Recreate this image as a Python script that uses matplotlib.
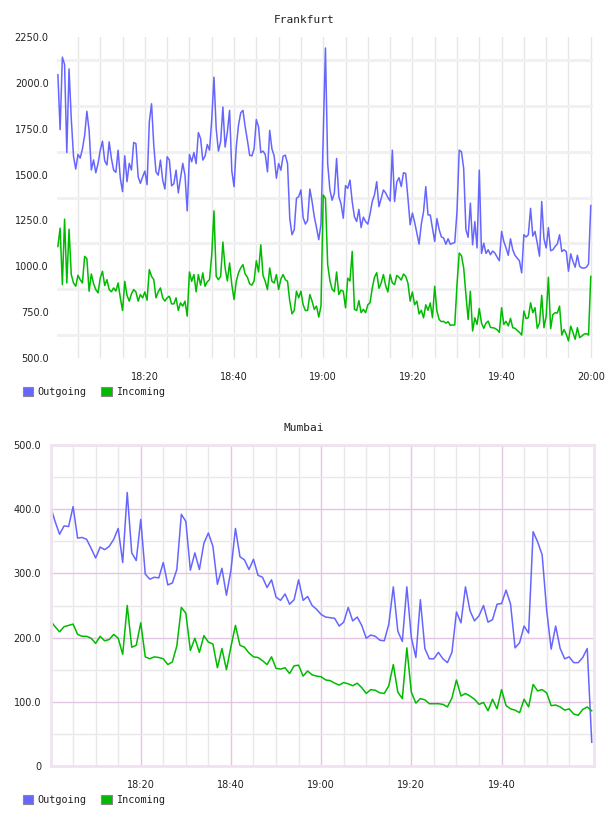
import matplotlib
matplotlib.use('Agg')
import matplotlib.pyplot as plt
import matplotlib.dates as mdates
from matplotlib.patches import Patch
from matplotlib.ticker import FixedLocator, FuncFormatter
import numpy as np
import pandas as pd

# Frankfurt, one sample every 30 s (18:00:30 .. 20:00)
fra_out = [2044, 1745, 2140, 2100, 1620, 2076, 1805, 1600, 1530, 1610,
           1590, 1640, 1714, 1845, 1740, 1525, 1580, 1510, 1560, 1633,
           1682, 1575, 1552, 1678, 1588, 1524, 1512, 1633, 1480, 1407,
           1602, 1461, 1561, 1525, 1675, 1669, 1488, 1452, 1488, 1519,
           1445, 1787, 1886, 1660, 1515, 1497, 1579, 1470, 1421, 1597,
           1579, 1439, 1450, 1524, 1400, 1479, 1561, 1497, 1302, 1610,
           1570, 1620, 1560, 1729, 1696, 1579, 1600, 1664, 1633, 1800,
           2031, 1750, 1628, 1680, 1868, 1650, 1732, 1850, 1520, 1434,
           1650, 1769, 1837, 1850, 1760, 1687, 1605, 1602, 1640, 1800,
           1760, 1620, 1628, 1610, 1515, 1741, 1640, 1602, 1480, 1560,
           1524, 1600, 1606, 1560, 1260, 1172, 1199, 1371, 1380, 1416,
           1265, 1230, 1250, 1421, 1353, 1270, 1210, 1145, 1230, 1700,
           2190, 1560, 1416, 1360, 1400, 1588, 1380, 1340, 1262, 1440,
           1425, 1470, 1353, 1270, 1244, 1310, 1211, 1268, 1244, 1230,
           1285, 1353, 1390, 1461, 1325, 1370, 1416, 1400, 1375, 1356,
           1633, 1353, 1460, 1483, 1435, 1510, 1506, 1372, 1226, 1290,
           1240, 1180, 1121, 1230, 1298, 1434, 1280, 1280, 1208, 1135,
           1260, 1200, 1160, 1154, 1120, 1150, 1120, 1125, 1130, 1300,
           1633, 1624, 1533, 1200, 1158, 1344, 1117, 1244, 1100, 1524,
           1070, 1126, 1070, 1090, 1063, 1083, 1072, 1050, 1030, 1190,
           1135, 1100, 1060, 1150, 1090, 1060, 1045, 1030, 964, 1172,
           1160, 1172, 1316, 1165, 1190, 1126, 1055, 1353, 1150, 1100,
           1211, 1085, 1090, 1108, 1122, 1172, 1080, 1090, 1080, 973,
           1068, 1027, 995, 1060, 1000, 991, 990, 995, 1012, 1331]

fra_in = [1108, 1208, 900, 1257, 909, 1202, 955, 909, 891, 951,
          927, 909, 1054, 1041, 864, 958, 905, 873, 855, 936,
          973, 895, 927, 873, 861, 882, 865, 909, 828, 759,
          918, 842, 810, 850, 873, 860, 810, 846, 828, 860,
          815, 982, 945, 927, 828, 861, 882, 828, 810, 828,
          837, 795, 795, 828, 759, 801, 783, 810, 728, 969,
          918, 955, 861, 955, 897, 964, 891, 915, 927, 1063,
          1302, 945, 927, 945, 1132, 991, 920, 1018, 900, 819,
          918, 964, 991, 1009, 958, 940, 904, 897, 920, 1030,
          969, 1117, 950, 918, 873, 991, 918, 909, 955, 873,
          930, 955, 927, 918, 810, 741, 759, 864, 828, 864,
          790, 759, 759, 846, 810, 765, 783, 723, 783, 1389,
          1370, 1009, 922, 875, 862, 969, 846, 870, 864, 774,
          935, 920, 1081, 765, 759, 813, 747, 765, 747, 790,
          801, 882, 940, 965, 880, 909, 955, 895, 860, 955,
          910, 900, 950, 940, 925, 958, 945, 908, 810, 860,
          790, 810, 740, 760, 719, 790, 760, 800, 720, 891,
          756, 710, 698, 700, 690, 698, 678, 680, 680, 900,
          1072, 1058, 991, 846, 710, 864, 647, 719, 683, 770,
          690, 662, 690, 701, 667, 665, 662, 654, 640, 774,
          683, 700, 675, 716, 665, 662, 651, 640, 625, 756,
          715, 720, 801, 747, 774, 662, 690, 842, 665, 728,
          940, 660, 737, 747, 745, 783, 625, 655, 630, 593,
          674, 640, 602, 665, 611, 620, 630, 633, 625, 945]

# Mumbai, one sample per minute (18:00 .. 20:00)
mum_out = [404, 381, 361, 374, 373, 404, 355, 356, 353, 339,
           324, 341, 337, 342, 353, 370, 317, 426, 332, 320,
           384, 299, 291, 294, 293, 317, 282, 285, 306, 392,
           381, 305, 332, 306, 347, 363, 342, 283, 308, 266,
           305, 370, 326, 321, 306, 322, 297, 294, 278, 290,
           263, 258, 268, 252, 259, 290, 258, 264, 250, 244,
           236, 232, 231, 230, 218, 224, 247, 226, 232, 219,
           199, 204, 202, 196, 195, 221, 279, 210, 194, 279,
           200, 169, 259, 183, 167, 167, 177, 167, 161, 177,
           240, 223, 279, 242, 226, 234, 250, 224, 228, 252,
           253, 274, 252, 184, 192, 218, 207, 365, 349, 329,
           243, 182, 218, 183, 167, 170, 161, 161, 169, 183, 37]

mum_in = [226, 217, 209, 217, 219, 221, 205, 202, 202, 199,
          191, 202, 195, 197, 205, 199, 174, 250, 185, 188,
          223, 170, 167, 170, 169, 167, 158, 162, 187, 247,
          238, 180, 199, 177, 203, 193, 190, 153, 183, 150,
          186, 219, 188, 185, 176, 170, 169, 164, 158, 170,
          152, 151, 153, 144, 156, 157, 140, 148, 142, 140,
          139, 134, 133, 129, 126, 130, 128, 125, 129, 122,
          113, 119, 118, 114, 113, 125, 158, 115, 105, 184,
          115, 98, 105, 103, 97, 97, 97, 96, 92, 106,
          134, 109, 113, 109, 104, 96, 99, 86, 104, 89,
          119, 94, 89, 87, 83, 104, 92, 127, 117, 119,
          114, 94, 95, 92, 87, 89, 81, 79, 88, 92, 86]

series_names = ['Outgoing', 'Incoming']

fra_times = pd.date_range('2000-01-01 18:00:30', periods=len(fra_out), freq='30s')
mum_times = pd.date_range('2000-01-01 18:00', periods=len(mum_out), freq='1min')

BLUE = '#6666ff'
GREEN = '#00bb00'
TXT = '#222222'
W, H = 608, 816

t0 = pd.Timestamp('2000-01-01 18:00')


def minutes(m):
    return t0 + pd.Timedelta(minutes=m)


def box(l, t, r, b):
    return [l / W, 1 - b / H, (r - l) / W, (b - t) / H]


def legend(y_px):
    handles = [Patch(facecolor=BLUE, edgecolor='#888888', lw=0.8, label=series_names[0]),
               Patch(facecolor=GREEN, edgecolor='#888888', lw=0.8, label=series_names[1])]
    fig.legend(handles=handles, loc='center left', bbox_to_anchor=(23 / W, 1 - y_px / H),
               ncol=2, frameon=False, prop={'family': 'DejaVu Sans Mono', 'size': 7.3},
               handlelength=1.0, handleheight=1.0, handletextpad=0.45,
               columnspacing=1.45, borderpad=0, borderaxespad=0, labelcolor=TXT)


fig = plt.figure(figsize=(W / 100, H / 100), dpi=100)

# ---- Frankfurt ----
ax1 = fig.add_axes(box(57, 37, 593, 358))
ax1.plot(fra_times, fra_out, color=BLUE, lw=1.1)
ax1.plot(fra_times, fra_in, color=GREEN, lw=1.1)
ax1.set_ylim(500, 2250)
ax1.set_xlim(minutes(0.3), minutes(120.5))
ax1.yaxis.set_major_locator(FixedLocator(np.arange(500, 2251, 250)))
ax1.yaxis.set_minor_locator(FixedLocator(np.arange(625, 2250, 250)))
ax1.yaxis.set_major_formatter(FuncFormatter(lambda v, p: '%.1f' % v))
ax1.xaxis.set_major_locator(FixedLocator([mdates.date2num(minutes(m)) for m in range(20, 121, 20)]))
ax1.xaxis.set_minor_locator(FixedLocator([mdates.date2num(minutes(m)) for m in range(5, 121, 5)]))
ax1.xaxis.set_major_formatter(mdates.DateFormatter('%H:%M'))
ax1.grid(True, which='minor', axis='y', color='#f0f0f0', lw=2)
ax1.grid(True, which='both', axis='x', color='#e6e6e6', lw=1)
ax1.set_axisbelow(True)
ax1.tick_params(which='both', length=0, labelsize=7, colors=TXT)
ax1.tick_params(axis='y', pad=6)
ax1.tick_params(axis='x', pad=10)
for s in ax1.spines.values():
    s.set_visible(False)

fig.text(0.5, 1 - 20 / H, 'Frankfurt', ha='center', va='center',
         family='DejaVu Sans Mono', size=8, color=TXT)
legend(392)

# ---- Mumbai ----
PINK = '#e2c6e2'
ax2 = fig.add_axes(box(51, 445, 594, 766))
ax2.plot(mum_times, mum_out, color=BLUE, lw=1.1)
ax2.plot(mum_times, mum_in, color=GREEN, lw=1.1)
ax2.set_ylim(0, 500)
ax2.set_xlim(minutes(0.1), minutes(120.5))
ax2.yaxis.set_major_locator(FixedLocator(np.arange(0, 501, 100)))
ax2.yaxis.set_minor_locator(FixedLocator(np.arange(50, 500, 100)))
ax2.yaxis.set_major_formatter(FuncFormatter(lambda v, p: '0' if v == 0 else '%.1f' % v))
ax2.xaxis.set_major_locator(FixedLocator([mdates.date2num(minutes(m)) for m in range(20, 101, 20)]))
ax2.xaxis.set_minor_locator(FixedLocator([mdates.date2num(minutes(m)) for m in range(5, 120, 5)]))
ax2.xaxis.set_major_formatter(mdates.DateFormatter('%H:%M'))
ax2.grid(True, which='major', color=PINK, lw=1)
ax2.grid(True, which='minor', color='#e8e8e8', lw=1)
ax2.set_axisbelow(True)
ax2.tick_params(which='both', length=0, labelsize=7, colors=TXT)
ax2.tick_params(axis='y', pad=7)
ax2.tick_params(axis='x', pad=10)
for s in ax2.spines.values():
    s.set_color('#f0e2f0')
    s.set_linewidth(2)

fig.text(0.5, 1 - 428 / H, 'Mumbai', ha='center', va='center',
         family='DejaVu Sans Mono', size=8, color=TXT)
legend(800)

fig.savefig('out.png', dpi=100)
